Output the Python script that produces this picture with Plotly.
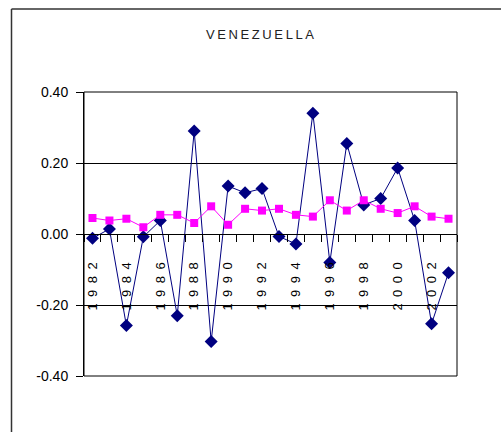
import plotly.graph_objects as go

# ---- data ----
years = list(range(1982, 2004))
series_blue = [-0.012, 0.014, -0.258, -0.008, 0.038, -0.230, 0.290, -0.303, 0.135, 0.116, 0.128,
               -0.007, -0.028, 0.340, -0.080, 0.255, 0.082, 0.100, 0.186, 0.038, -0.253, -0.109]
series_magenta = [0.045, 0.038, 0.043, 0.019, 0.054, 0.054, 0.031, 0.078, 0.026, 0.071, 0.066,
                  0.071, 0.054, 0.049, 0.095, 0.066, 0.095, 0.071, 0.059, 0.078, 0.049, 0.043]
x_tick_years = [1982, 1984, 1986, 1988, 1990, 1992, 1994, 1996, 1998, 2000, 2002]
x_tick_labels = ["1982", "1984", "1986", "1988", "1990", "1992", "1994", "1996", "1998", "2000", "2002"]
y_tick_vals = [0.40, 0.20, 0.00, -0.20, -0.40]
y_tick_labels = ["0.40", "0.20", "0.00", "-0.20", "-0.40"]
title_text = "VENEZUELLA"

W, H = 501, 432
FONT = "Liberation Sans, Arial, sans-serif"

fig = go.Figure()
fig.add_trace(go.Scatter(
    x=years, y=series_blue, mode="lines+markers",
    line=dict(color="#000080", width=1),
    marker=dict(symbol="diamond", size=10, color="#000080"),
    showlegend=False))
fig.add_trace(go.Scatter(
    x=years, y=series_magenta, mode="lines+markers",
    line=dict(color="#FF00FF", width=1),
    marker=dict(symbol="square", size=8, color="#FF00FF"),
    showlegend=False))

# plot area in pixels
px_l, px_r, px_t, px_b = 84, 457, 92, 376
dom_x = [px_l / W, px_r / W]
dom_y = [1 - px_b / H, 1 - px_t / H]
zero_pos = (dom_y[0] + dom_y[1]) / 2

boundaries = [y - 0.5 for y in years] + [years[-1] + 0.5]

fig.update_layout(
    width=W, height=H,
    margin=dict(l=0, r=0, t=0, b=0, autoexpand=False),
    paper_bgcolor="white", plot_bgcolor="white",
    font=dict(family=FONT, color="black"),
    title=dict(text="\u2009".join(title_text), x=260 / W, y=1 - 34 / H,
               xanchor="center", yanchor="middle", automargin=False,
               font=dict(family=FONT, size=13, color="#222222")),
    xaxis=dict(
        domain=dom_x, range=[years[0] - 0.5, years[-1] + 0.5],
        anchor="free", position=zero_pos, automargin=False,
        showline=True, linecolor="black", linewidth=1,
        showgrid=False, zeroline=False,
        tickmode="array", tickvals=x_tick_years,
        ticktext=["\u2002".join(t) for t in x_tick_labels],
        ticks="", tickangle=-90, ticklabelstandoff=22,
        tickfont=dict(family=FONT, size=13, color="black"),
        minor=dict(tickmode="array", tickvals=boundaries, ticks="outside",
                   ticklen=7, tickcolor="black", tickwidth=1, showgrid=False),
    ),
    yaxis=dict(
        domain=dom_y, range=[-0.4, 0.4], automargin=False,
        showline=True, linecolor="black", linewidth=1,
        showgrid=True, gridcolor="black", gridwidth=1, zeroline=False,
        tickmode="array", tickvals=y_tick_vals, ticktext=y_tick_labels,
        ticks="outside", ticklen=7, tickcolor="black",
        ticklabelstandoff=5,
        tickfont=dict(family=FONT, size=14, color="black"),
    ),
    shapes=[
        dict(type="rect", xref="x domain", yref="y domain", x0=0, x1=1, y0=0, y1=1,
             line=dict(color="black", width=1), layer="above"),
        dict(type="line", xref="paper", yref="paper", x0=11.5 / W, x1=1.02,
             y0=1 - 9 / H, y1=1 - 9 / H, line=dict(color="#333333", width=1.5)),
        dict(type="line", xref="paper", yref="paper", x0=11.5 / W, x1=11.5 / W,
             y0=-0.02, y1=1 - 9 / H, line=dict(color="#333333", width=1.5)),
    ],
)

fig.write_html("out.html")
